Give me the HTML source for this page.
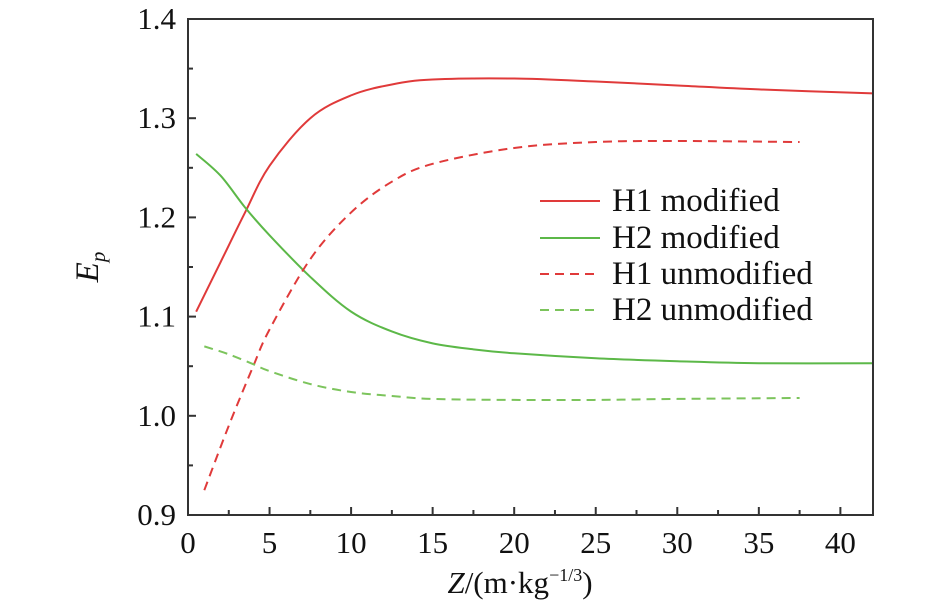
<!DOCTYPE html>
<html><head><meta charset="utf-8"><style>
body{margin:0;background:#fff}
svg text{font-family:"Liberation Serif","Times New Roman",serif;fill:#111}
</style></head><body>
<svg id="chart" width="945" height="609" xmlns="http://www.w3.org/2000/svg"></svg>
<script>
const xTicks=[0,5,10,15,20,25,30,35,40];
const yTicks=[0.9,1.0,1.1,1.2,1.3,1.4];
const h1modX=[0.5,2,3.5,5,7.5,10,12.5,15,20,25,30,35,42];
const h1modY=[1.105,1.155,1.205,1.252,1.3,1.323,1.334,1.339,1.34,1.337,1.333,1.329,1.325];
const h2modX=[0.5,2,3.5,5,7.5,10,12.5,15,17.5,20,25,30,35,42];
const h2modY=[1.264,1.242,1.21,1.182,1.14,1.105,1.085,1.073,1.067,1.063,1.058,1.055,1.053,1.053];
const h1unX=[1,2.5,4,5,7.5,10,12.5,15,20,25,30,37.5];
const h1unY=[0.925,0.99,1.05,1.087,1.158,1.205,1.236,1.254,1.27,1.276,1.277,1.276];
const h2unX=[1,2.5,4,5,7.5,10,12.5,15,20,25,30,37.5];
const h2unY=[1.07,1.062,1.052,1.045,1.032,1.024,1.02,1.017,1.016,1.016,1.017,1.018];
const L=188,R=873,T=19,B=515,xMin=0,xMax=42,yMin=0.9,yMax=1.4;
const sx=v=>L+(v-xMin)/(xMax-xMin)*(R-L);
const sy=v=>B-(v-yMin)/(yMax-yMin)*(B-T);
const svg=document.getElementById('chart');
const NS='http://www.w3.org/2000/svg';
const FF='Liberation Serif, serif';
function mk(tag,attrs,parent){const e=document.createElementNS(NS,tag);for(const k in attrs)e.setAttribute(k,attrs[k]);if(tag==='text')e.setAttribute('font-family',FF);(parent||svg).appendChild(e);return e;}
function pathFor(xs,ys){const p=xs.map((x,i)=>[sx(x),sy(ys[i])]);let d='M'+p[0][0]+','+p[0][1];
for(let i=0;i<p.length-1;i++){const p0=p[Math.max(0,i-1)],p1=p[i],p2=p[i+1],p3=p[Math.min(p.length-1,i+2)];
const c1=[p1[0]+(p2[0]-p0[0])/6,p1[1]+(p2[1]-p0[1])/6],c2=[p2[0]-(p3[0]-p1[0])/6,p2[1]-(p3[1]-p1[1])/6];
d+=` C${c1[0]},${c1[1]} ${c2[0]},${c2[1]} ${p2[0]},${p2[1]}`;}return d;}
const series=[
 {n:'h1-modified-line',x:h1modX,y:h1modY,c:'#e03a3a',dash:''},
 {n:'h2-modified-line',x:h2modX,y:h2modY,c:'#5cb848',dash:''},
 {n:'h1-unmodified-line',x:h1unX,y:h1unY,c:'#e03a3a',dash:'9,6'},
 {n:'h2-unmodified-line',x:h2unX,y:h2unY,c:'#7cc45c',dash:'9,6'}];
series.forEach(s=>{const e=mk('path',{d:pathFor(s.x,s.y),fill:'none',stroke:s.c,'stroke-width':2,'stroke-dasharray':s.dash});

});
const frame=mk('rect',{x:L,y:T,width:R-L,height:B-T,fill:'none',stroke:'#333','stroke-width':2});


xTicks.forEach(v=>{const x=sx(v);mk('line',{x1:x,x2:x,y1:B,y2:B-8,stroke:'#333','stroke-width':2});
const m=sx(v+2.5);if(v+2.5<xMax)mk('line',{x1:m,x2:m,y1:B,y2:B-5,stroke:'#333','stroke-width':2});
const t=mk('text',{x:x,y:B+38,'text-anchor':'middle','font-size':31});t.textContent=v;

});
yTicks.forEach((v,i)=>{const y=sy(v);mk('line',{x1:L,x2:L+8,y1:y,y2:y,stroke:'#333','stroke-width':2});
if(i<yTicks.length-1){const m=sy(v+0.05);mk('line',{x1:L,x2:L+5,y1:m,y2:m,stroke:'#333','stroke-width':2});}
const t=mk('text',{x:L-12,y:y+10,'text-anchor':'end','font-size':31});t.textContent=v.toFixed(1);

});
const xt=mk('text',{x:520,y:593,'text-anchor':'middle','font-size':31});
xt.innerHTML='<tspan font-style="italic">Z</tspan>/(m·kg<tspan font-size="18" dy="-12">−1/3</tspan><tspan dy="12">)</tspan>';


const yt=mk('text',{x:0,y:0,'font-size':33,transform:'translate(98,267) rotate(-90)','text-anchor':'middle'});
yt.innerHTML='<tspan font-style="italic">E</tspan><tspan font-style="italic" font-size="21" dy="7">p</tspan>';


const labels=['H1 modified','H2 modified','H1 unmodified','H2 unmodified'];
const legY=[201,238,274,310];
labels.forEach((lb,i)=>{const g=mk('g',{});


mk('line',{x1:540,x2:600,y1:legY[i],y2:legY[i],stroke:series[i].c,'stroke-width':2,'stroke-dasharray':series[i].dash},g);
const t=mk('text',{x:612,y:legY[i]+10,'font-size':33},g);t.textContent=lb;});
</script>
</body></html>
